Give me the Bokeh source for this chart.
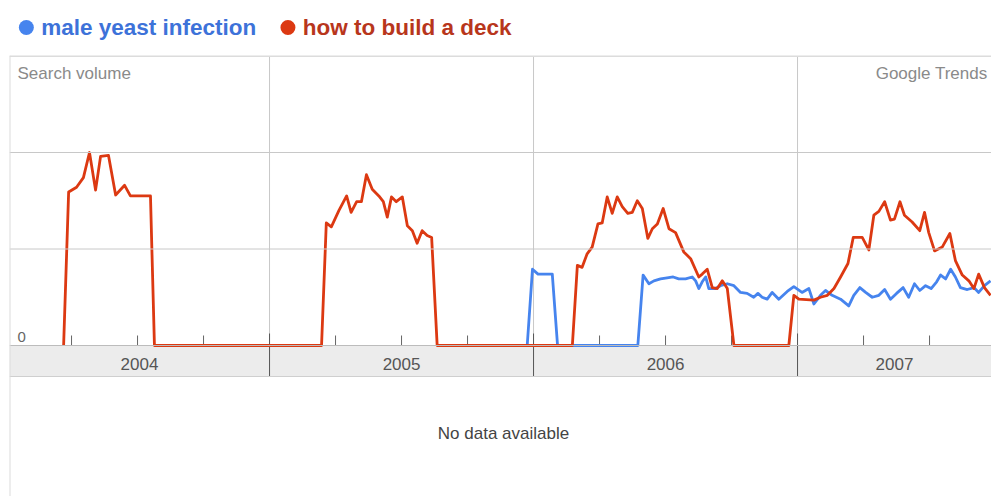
from bokeh.plotting import figure
from bokeh.layouts import column
from bokeh.models import Range1d, Span
from bokeh.core.properties import value
from bokeh.embed import file_html
from bokeh.resources import INLINE

# ---------------- data ----------------
series_names = ["male yeast infection", "how to build a deck"]

blue_x = [2005.976, 2005.996, 2006.017, 2006.071, 2006.091, 2006.395, 2006.415, 2006.437,
          2006.456, 2006.481, 2006.506, 2006.529, 2006.550, 2006.576, 2006.601, 2006.614,
          2006.626, 2006.639, 2006.652, 2006.664, 2006.689, 2006.708, 2006.734, 2006.759,
          2006.784, 2006.809, 2006.834, 2006.850, 2006.866, 2006.885, 2006.904, 2006.929,
          2006.961, 2006.986, 2007.017, 2007.043, 2007.062, 2007.087, 2007.106, 2007.131,
          2007.163, 2007.194, 2007.213, 2007.236, 2007.258, 2007.283, 2007.308, 2007.330,
          2007.352, 2007.375, 2007.400, 2007.421, 2007.443, 2007.463, 2007.485, 2007.506,
          2007.527, 2007.542, 2007.561, 2007.580, 2007.598, 2007.617, 2007.643, 2007.668,
          2007.686, 2007.708, 2007.731]
blue_y = [0, 0.79, 0.74, 0.74, 0, 0, 0.73, 0.64,
          0.67, 0.69, 0.70, 0.71, 0.69, 0.69, 0.71, 0.67,
          0.59, 0.66, 0.71, 0.59, 0.59, 0.62, 0.64, 0.62,
          0.55, 0.54, 0.50, 0.54, 0.50, 0.48, 0.55, 0.48,
          0.56, 0.61, 0.55, 0.59, 0.43, 0.52, 0.57, 0.52,
          0.48, 0.41, 0.52, 0.60, 0.55, 0.50, 0.52, 0.58,
          0.48, 0.54, 0.60, 0.50, 0.64, 0.57, 0.62, 0.59,
          0.66, 0.73, 0.69, 0.79, 0.71, 0.60, 0.58, 0.60,
          0.55, 0.62, 0.67]

red_x = [2004.220, 2004.239, 2004.269, 2004.295, 2004.318, 2004.341, 2004.360, 2004.390,
         2004.417, 2004.451, 2004.473, 2004.549, 2004.564,
         2005.197, 2005.215, 2005.234, 2005.263, 2005.292, 2005.309, 2005.330, 2005.348,
         2005.367, 2005.389, 2005.414, 2005.431, 2005.446, 2005.462, 2005.480, 2005.503,
         2005.522, 2005.541, 2005.559, 2005.578, 2005.597, 2005.614, 2005.635,
         2006.147, 2006.166, 2006.184, 2006.203, 2006.222, 2006.244, 2006.260, 2006.279,
         2006.298, 2006.317, 2006.336, 2006.357, 2006.374, 2006.393, 2006.412, 2006.433,
         2006.450, 2006.469, 2006.491, 2006.513, 2006.538, 2006.569, 2006.595, 2006.626,
         2006.639, 2006.658, 2006.677, 2006.696, 2006.715, 2006.734, 2006.759, 2006.967,
         2006.986, 2007.005, 2007.062, 2007.087, 2007.113, 2007.138, 2007.163, 2007.191,
         2007.211, 2007.245, 2007.270, 2007.289, 2007.308, 2007.330, 2007.352, 2007.367,
         2007.388, 2007.405, 2007.434, 2007.463, 2007.481, 2007.497, 2007.519, 2007.548,
         2007.577, 2007.598, 2007.624, 2007.649, 2007.668, 2007.686, 2007.708, 2007.731]
red_y = [0, 1.59, 1.64, 1.74, 2.00, 1.61, 1.96, 1.97,
         1.56, 1.66, 1.55, 1.55, 0,
         0, 1.27, 1.23, 1.40, 1.55, 1.38, 1.49, 1.49,
         1.77, 1.62, 1.55, 1.49, 1.33, 1.54, 1.49, 1.54,
         1.24, 1.19, 1.06, 1.19, 1.14, 1.12, 0,
         0, 0.83, 0.81, 0.95, 1.02, 1.26, 1.27, 1.54,
         1.37, 1.54, 1.44, 1.37, 1.38, 1.50, 1.42, 1.11,
         1.21, 1.26, 1.42, 1.21, 1.17, 0.97, 0.90, 0.71,
         0.74, 0.79, 0.60, 0.59, 0.67, 0.59, 0, 0,
         0.52, 0.48, 0.47, 0.50, 0.52, 0.59, 0.71, 0.85,
         1.12, 1.12, 0.99, 1.35, 1.39, 1.49, 1.30, 1.31,
         1.49, 1.35, 1.28, 1.19, 1.38, 1.17, 0.98, 1.02,
         1.16, 0.88, 0.73, 0.67, 0.59, 0.74, 0.60, 0.52]

year_labels = ["2004", "2005", "2006", "2007"]
year_starts = [2004, 2005, 2006, 2007]
y_grid = [1, 2]

# ---------------- styling / layout ----------------
BLUE = "#4684EE"
RED = "#DC3912"
FONT = value("Liberation Sans")

W = 991
LEFT = 9
LEG_H = 55
MAIN_H = 441
PX_PER_YEAR = 264.0
PX_PER_UNIT = 96.5

X_START = 2004.015
X_END = X_START + (W - LEFT) / PX_PER_YEAR
Y_END = 3 + 0.5 / PX_PER_UNIT
Y_START = Y_END - MAIN_H / PX_PER_UNIT


def dx(px):
    return px / PX_PER_YEAR


def dy(px):
    return px / PX_PER_UNIT


# ---------------- legend strip ----------------
leg = figure(width=W, height=LEG_H, x_range=Range1d(0, W), y_range=Range1d(0, LEG_H),
             output_backend="svg", toolbar_location=None, min_border=0,
             x_axis_location=None, y_axis_location=None)
leg.grid.visible = False
leg.outline_line_color = None
leg.scatter(x=[17, 281], y=[28, 28], size=15, marker="circle",
            fill_color=[BLUE, RED], line_color=None)
leg.text(x=[32, 296], y=[28.5, 28.5], text=series_names, text_font=value("Liberation Sans"),
         text_font_size="22.5px", text_font_style="bold",
         text_color=["#3d72d9", "#b8361c"], text_align="left", text_baseline="middle")

# ---------------- main chart ----------------
p = figure(width=W, height=MAIN_H, x_range=Range1d(X_START, X_END),
           y_range=Range1d(Y_START, Y_END), output_backend="svg", toolbar_location=None,
           min_border_left=LEFT, min_border_right=0, min_border_top=0, min_border_bottom=0,
           x_axis_location=None, y_axis_location=None)
p.grid.visible = False
p.outline_line_color = None
p.background_fill_color = "white"

band_bottom = -dy(31)
tick_top = dy(12)
qtick_top = dy(10)

# axis band
p.quad(left=[X_START], right=[X_END], top=[0], bottom=[band_bottom],
       fill_color="#ececec", line_color=None)

# horizontal gridlines & borders
for v in y_grid:
    p.add_layout(Span(location=v, dimension="width", line_color="#c8c8c8", line_width=1))
p.add_layout(Span(location=0, dimension="width", line_color="#bcbcbc", line_width=1))
p.add_layout(Span(location=band_bottom, dimension="width", line_color="#cfcfcf", line_width=1))
p.add_layout(Span(location=3, dimension="width", line_color="#dcdcdc", line_width=2))
p.add_layout(Span(location=X_START, dimension="height", line_color="#dcdcdc", line_width=2))

# vertical year gridlines and separators
year_bounds = [y for y in year_starts if y > X_START]
p.segment(x0=year_bounds, y0=[0] * len(year_bounds), x1=year_bounds, y1=[3] * len(year_bounds),
          line_color="#c8c8c8", line_width=1)
p.segment(x0=year_bounds, y0=[band_bottom] * len(year_bounds), x1=year_bounds,
          y1=[tick_top] * len(year_bounds), line_color="#555555", line_width=1)

# quarter ticks
quarters = [y + q / 4 for y in year_starts for q in (1, 2, 3) if X_START < y + q / 4 < X_END]
p.segment(x0=quarters, y0=[0] * len(quarters), x1=quarters, y1=[qtick_top] * len(quarters),
          line_color="#666666", line_width=1)

# year labels centred in visible part of each year
centers = [(max(s, X_START) + min(s + 1, X_END)) / 2 for s in year_starts]
p.text(x=centers, y=[-dy(18)] * len(centers), text=year_labels, text_font=FONT,
       text_font_size="17px", text_color="#555555", text_align="center",
       text_baseline="middle")

# data lines
p.line(blue_x, blue_y, line_color=BLUE, line_width=2.8, line_join="round")
p.line(red_x, red_y, line_color=RED, line_width=2.8, line_join="round")

# chart texts
p.text(x=[X_START + dx(8)], y=[dy(9)], text=["0"], text_font=FONT, text_font_size="15px",
       text_color="#666666", text_align="left", text_baseline="middle")
p.text(x=[X_START + dx(8)], y=[dy(345 - 73)], text=["Search volume"], text_font=FONT,
       text_font_size="17px", text_color="#8a8a8a", text_align="left", text_baseline="middle")
p.text(x=[X_START + dx(978)], y=[dy(345 - 73)], text=["Google Trends"], text_font=FONT,
       text_font_size="17px", text_color="#8a8a8a", text_align="right", text_baseline="middle")
p.text(x=[(X_START + X_END) / 2 + dx(3)], y=[-dy(88)], text=["No data available"],
       text_font=FONT, text_font_size="17px", text_color="#444444", text_align="center",
       text_baseline="middle")

layout = column(leg, p, spacing=0)
open("out.html", "w").write(file_html(layout, INLINE))
